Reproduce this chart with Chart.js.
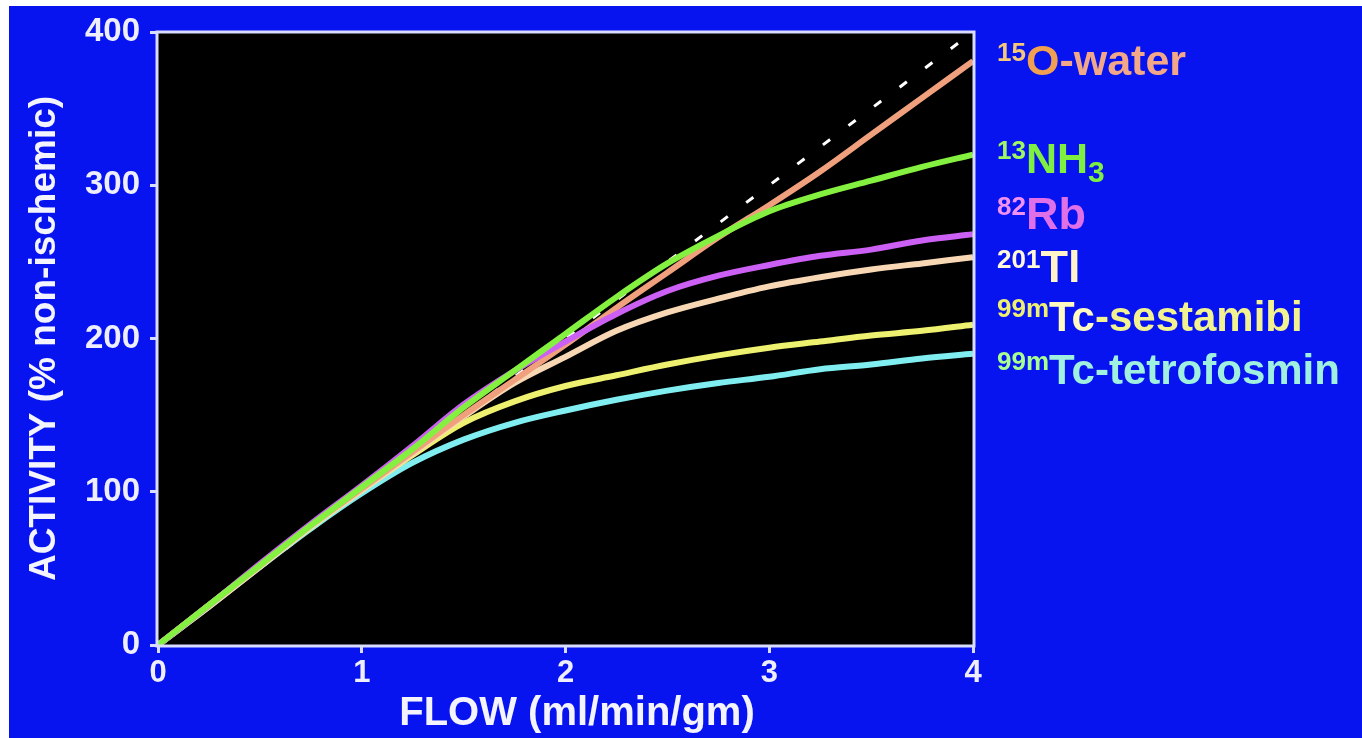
<!DOCTYPE html>
<html><head><meta charset="utf-8">
<script src="https://cdn.jsdelivr.net/npm/chart.js@4.4.1/dist/chart.umd.min.js"></script>
<style>
html,body{margin:0;padding:0;background:#fff;width:1362px;height:738px;overflow:hidden;}
#bg{position:absolute;left:9px;top:6px;right:0;bottom:0;background:#0814f0;}
#c{position:absolute;left:0;top:0;}
.lg{position:absolute;left:997px;font-family:"Liberation Sans",Arial,sans-serif;font-weight:bold;line-height:0;white-space:nowrap;}
.lg span{line-height:0;}
.sp{position:relative;font-size:26px;top:-14px;}
.sb{position:relative;font-size:30px;top:9px;}
#xt{position:absolute;left:577px;top:711px;transform:translateX(-50%);font-family:"Liberation Sans",Arial,sans-serif;font-weight:bold;font-size:40px;line-height:0;color:#f4f4ff;white-space:nowrap;}
</style></head>
<body>
<div id="bg"></div>
<canvas id="c" width="1362" height="738"></canvas>
<div id="xt">FLOW (ml/min/gm)</div>
<div class="lg" style="top:60px;font-size:43px;color:#f2a888"><span class="sp" style="color:#f4c878">15</span><span style="color:#f0a050">O</span>-water</div>
<div class="lg" style="top:158px;font-size:43px;color:#80f040"><span class="sp" style="color:#a0f860">13</span>NH<span class="sb">3</span></div>
<div class="lg" style="top:214px;font-size:45px;color:#e070e8"><span class="sp" style="color:#f090f0">82</span>Rb</div>
<div class="lg" style="top:267px;font-size:45px;color:#fff4c8"><span class="sp" style="color:#fff8d8">201</span>Tl</div>
<div class="lg" style="top:317px;font-size:42px;color:#f2f290"><span class="sp" style="color:#f0f070">99m</span><span style="color:#fffac0">Tc</span>-sestamibi</div>
<div class="lg" style="top:370px;font-size:42px;color:#a0f0e0"><span class="sp" style="color:#a8ff90">99m</span>Tc-tetrofosmin</div>
<script>
const flow = [0,0.25,0.5,0.75,1,1.25,1.5,1.75,2,2.25,2.5,2.75,3,3.25,3.5,3.75,4];
const water       = [0,26,52,78,102,126,150,173,196,220,243,266,287,309,333,357,381];
const ammonia     = [0,26,52,78,103,128,155,179,203,227,249,267,283,294,303,312,320];
const rubidium    = [0,26,53,79,104,130,157,179,198,216,231,241,248,254,258,264,268];
const thallium    = [0,25,51,77,101,125,149,171,188,205,217,226,234,240,245,249,253];
const sestamibi   = [0,26,52,77,101,124,145,159,169,176,183,189,194,198,202,205,209];
const tetrofosmin = [0,25,51,76,99,119,134,145,153,160,166,171,175,180,183,187,190];
const identityFlow = [0,4];
const identityActivity = [0,400];
const xTicks = [0,1,2,3,4];
const yTicks = [0,100,200,300,400];

const pts = (xs, ys) => xs.map((x,i)=>({x:x,y:ys[i]}));
const series = (label, ys, color) => ({label, data: pts(flow, ys), borderColor: color, borderWidth: 6,
  pointRadius: 0, fill: false, cubicInterpolationMode: 'monotone'});

const bgPlugin = {
  id: 'bgp',
  beforeDraw(chart){
    const a = chart.chartArea, ctx = chart.ctx;
    ctx.save(); ctx.fillStyle = '#000'; ctx.fillRect(a.left, a.top, a.right-a.left, a.bottom-a.top); ctx.restore();
  },
  afterDatasetsDraw(chart){
    const a = chart.chartArea, ctx = chart.ctx;
    ctx.save(); ctx.strokeStyle = '#d8dcff'; ctx.lineWidth = 3;
    ctx.strokeRect(a.left-1, a.top, a.right-a.left+2, a.bottom-a.top+1); ctx.restore();
  }
};

const tickFont = {family: '"Liberation Sans", Arial, sans-serif', weight: 'bold'};
new Chart(document.getElementById('c'), {
  type: 'line',
  data: { datasets: [
    series('13NH3', ammonia, '#84f040'),
    series('82Rb', rubidium, '#cc60f4'),
    series('15O-water', water, '#f0a07c'),
    series('201Tl', thallium, '#f8d8b4'),
    series('99mTc-sestamibi', sestamibi, '#eef070'),
    series('99mTc-tetrofosmin', tetrofosmin, '#80eef0'),
    {label: 'identity', data: pts(identityFlow, identityActivity), borderColor: '#ffffff', borderWidth: 3,
     borderDash: [9, 23], pointRadius: 0, fill: false, tension: 0}
  ]},
  options: {
    responsive: false, animation: false,
    layout: {padding: {left: 0, top: 32, right: 389, bottom: 0}},
    plugins: {legend: {display: false}, tooltip: {enabled: false}},
    scales: {
      x: {type: 'linear', min: 0, max: 4,
        afterFit(s){ s.height = 93; },
        afterBuildTicks(s){ s.ticks = xTicks.map(v=>({value:v})); },
        ticks: {color: '#eeeeff', font: {...tickFont, size: 31}, padding: 2, maxRotation: 0},
        grid: {display: true, drawOnChartArea: false, drawTicks: true, tickLength: 8, color: '#d8dcff', lineWidth: 3},
        border: {display: false}
      },
      y: {type: 'linear', min: 0, max: 400,
        afterFit(s){ s.width = 158; },
        afterBuildTicks(s){ s.ticks = yTicks.map(v=>({value:v})); },
        ticks: {color: '#eeeeff', font: {...tickFont, size: 33}, padding: 10},
        grid: {display: true, drawOnChartArea: false, drawTicks: true, tickLength: 8, color: '#d8dcff', lineWidth: 3},
        border: {display: false},
        title: {display: true, text: 'ACTIVITY (% non-ischemic)', color: '#f4f4ff',
          font: {...tickFont, size: 37}, padding: {top: 23, bottom: 0}}
      }
    }
  },
  plugins: [bgPlugin]
});
</script>
</body></html>
